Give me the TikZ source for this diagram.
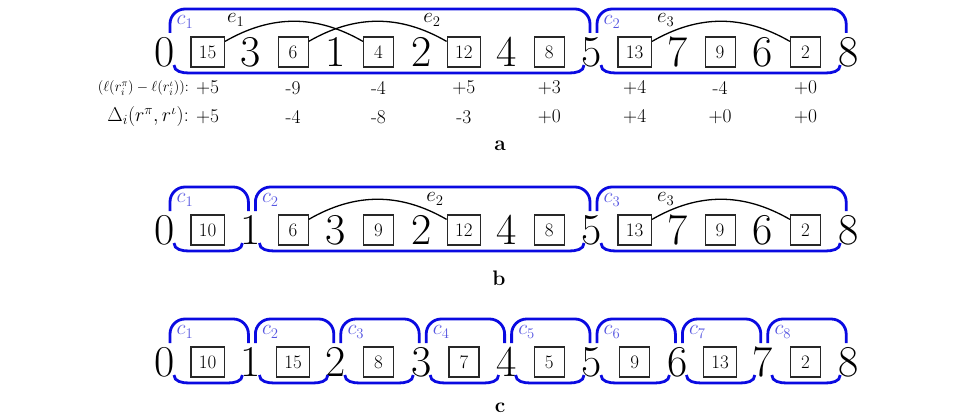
\RequirePackage{fix-cm}
\documentclass[tikz,border=0pt]{standalone}
\usetikzlibrary{calc}
\definecolor{brblue}{RGB}{10,10,225}
\definecolor{labblue}{RGB}{85,85,225}
\definecolor{boxgray}{RGB}{40,40,40}
\tikzset{
  dig/.style={inner sep=0pt, font=\fontsize{44}{44}\selectfont},
  bx/.style={draw=boxgray, line width=1.2pt, minimum width=30pt, minimum height=30pt, inner xsep=8pt, inner ysep=0pt, font=\fontsize{19}{19}\selectfont},
  br/.style={draw=brblue, line width=2.8pt},
  clab/.style={text=labblue, inner sep=0pt, font=\fontsize{21}{21}\selectfont},
  elab/.style={inner sep=0pt, font=\fontsize{21}{21}\selectfont},
  arcline/.style={draw=black, line width=1.3pt},
  val/.style={inner sep=0pt, font=\fontsize{19.5}{19.5}\selectfont},
  lab/.style={inner sep=0pt, anchor=east},
  captxt/.style={inner sep=0pt, font=\fontsize{21}{21}\selectfont\bfseries},
}
\newcommand\rowdigits[3]{%
  \foreach \t [count=\i from 0] in {#3} {
    \pgfmathtruncatemacro\k{2*\i}
    \node[dig] (#1\k) at (165+42.7*\k, #2) {\t};
  }}
\newcommand\rowboxes[3]{%
  \foreach \t [count=\i from 0] in {#3} {
    \pgfmathtruncatemacro\k{2*\i+1}
    \node[bx] (#1\k) at (165+42.7*\k, #2) {\t};
  }}
\newcommand\rowvals[4]{%
  \foreach \t [count=\i from 0] in {#3} {
    \pgfmathtruncatemacro\k{2*\i+1}
    \node[val] (#1#4\k) at (165+42.7*\k, #2) {\t};
  }}
\newcommand\comp[4]{% name, left node, right node, index
  \draw[br, rounded corners=15pt] ($(#2)+(5,-19)$) -- ($(#2)+(5,-43)$) -- ($(#3)+(-2,-43)$) -- ($(#3)+(-2,-19)$);
  \draw[br] ($(#2)+(9,13)$) to[out=-90,in=180] ($(#2)+(24,21)$) -- ($(#3)+(-23,21)$) to[out=0,in=-90] ($(#3)+(-8,13)$);
  \node[clab] (#1) at ($(#2)+(20,-30)$) {$c_{#4}$};
}
\begin{document}
\begin{tikzpicture}[x=1pt, y=-1pt]
\useasboundingbox (0,0) rectangle (961,420);
% ---------- panel a ----------
\rowdigits{a}{52}{0,3,1,2,4,5,7,6,8}
\rowboxes{a}{52}{15,6,4,12,8,13,9,2}
\comp{ac1}{a0}{a10}{1}
\comp{ac2}{a10}{a16}{2}
\draw[arcline] ([yshift=-5pt]a1.north east) to[bend left=30] ([yshift=-5pt]a5.north west);
\draw[arcline] ([yshift=-5pt]a3.north east) to[bend left=30] ([yshift=-5pt]a7.north west);
\draw[arcline] ([yshift=-5pt]a11.north east) to[bend left=30] ([yshift=-5pt]a15.north west);
\node[elab] (ae1) at ($(a1)+(28,-32)$) {$e_1$};
\node[elab] (ae2) at ($(a7)+(-32,-32)$) {$e_2$};
\node[elab] (ae3) at ($(a11)+(31,-32)$) {$e_3$};
\rowvals{a}{88}{+5,-9,-4,+5,+3,+4,-4,+0}{v}
\rowvals{a}{117}{+5,-4,-8,-3,+0,+4,+0,+0}{w}
\node[lab, font=\fontsize{14.5}{14.5}\selectfont] (alab1) at ([xshift=-7pt]av1.west) {$(\ell(r_i^\pi)-\ell(r_i^\iota))$:};
\node[lab, font=\fontsize{20}{20}\selectfont] (alab2) at ([xshift=-7pt]aw1.west) {$\Delta_i(r^\pi,r^\iota)$:};
\node[captxt] (capa) at (500,146) {a};
% ---------- panel b ----------
\rowdigits{b}{230}{0,1,3,2,4,5,7,6,8}
\rowboxes{b}{230}{10,6,9,12,8,13,9,2}
\comp{bc1}{b0}{b2}{1}
\comp{bc2}{b2}{b10}{2}
\comp{bc3}{b10}{b16}{3}
\draw[arcline] ([yshift=-5pt]b3.north east) to[bend left=30] ([yshift=-5pt]b7.north west);
\draw[arcline] ([yshift=-5pt]b11.north east) to[bend left=30] ([yshift=-5pt]b15.north west);
\node[elab] (be2) at ($(b7)+(-29,-31)$) {$e_2$};
\node[elab] (be3) at ($(b11)+(31,-31)$) {$e_3$};
\node[captxt] (capb) at (499,278) {b};
% ---------- panel c ----------
\rowdigits{c}{362}{0,1,2,3,4,5,6,7,8}
\rowboxes{c}{362}{10,15,8,7,5,9,13,2}
\foreach \j in {1,...,8} {
  \pgfmathtruncatemacro\l{2*\j-2}
  \pgfmathtruncatemacro\r{2*\j}
  \comp{cc\j}{c\l}{c\r}{\j}
}
\node[captxt] (capc) at (500,408) {c};
\end{tikzpicture}
\end{document}
